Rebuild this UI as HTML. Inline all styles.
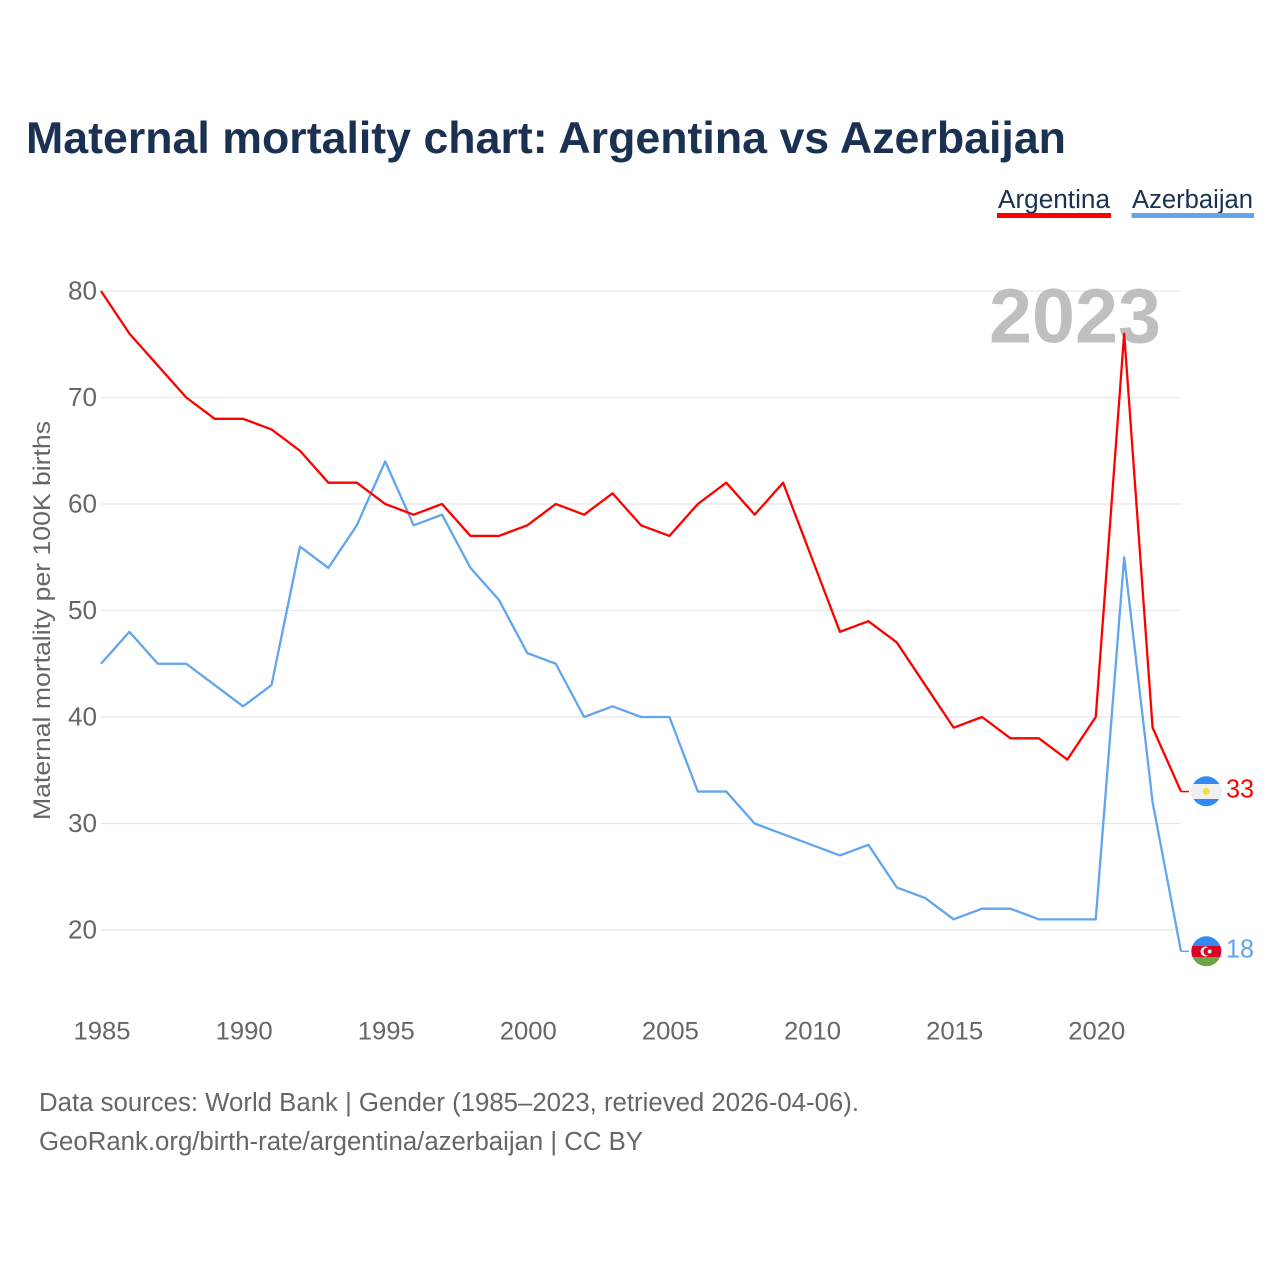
<!DOCTYPE html>
<html lang="en">
<head>
<meta charset="utf-8">
<title>Maternal mortality chart: Argentina vs Azerbaijan</title>
<style>
html,body{margin:0;padding:0;background:#fff;}
svg{display:block;font-family:"Liberation Sans",sans-serif;}
</style>
</head>
<body>
<svg id="chart" xmlns="http://www.w3.org/2000/svg" width="1280" height="1280" viewBox="0 0 1280 1280">
  <defs>
    <clipPath id="flag-clip-ar"><circle cx="1206.3" cy="791.3" r="15"/></clipPath>
    <clipPath id="flag-clip-az"><circle cx="1206.3" cy="951.3" r="15"/></clipPath>
  </defs>
  <rect x="0" y="0" width="1280" height="1280" fill="#fff"/>
  <text x="26" y="153" font-size="44.5" font-weight="700" fill="#1a3152" textLength="1040" lengthAdjust="spacingAndGlyphs">Maternal mortality chart: Argentina vs Azerbaijan</text>

  <g>
    <text x="998" y="208" font-size="25.5" fill="#1a3152" textLength="112" lengthAdjust="spacingAndGlyphs">Argentina</text>
    <rect x="997" y="213" width="114" height="5" fill="#ff0000"/>
  </g>
  <g>
    <text x="1132" y="208" font-size="25.5" fill="#1a3152" textLength="121" lengthAdjust="spacingAndGlyphs">Azerbaijan</text>
    <rect x="1131.5" y="213" width="122.5" height="5" fill="#62a5ec"/>
  </g>

  <g id="grid"></g>
  <text x="1075" y="342.5" font-size="77" font-weight="700" fill="#bfbfbf" text-anchor="middle" textLength="172" lengthAdjust="spacingAndGlyphs">2023</text>
  <g id="yticks"></g>
  <g id="xticks"></g>
  <text transform="translate(50,620.5) rotate(-90)" font-size="24.5" fill="#666" text-anchor="middle" textLength="399" lengthAdjust="spacingAndGlyphs">Maternal mortality per 100K births</text>
  <g id="series"></g>

  <g clip-path="url(#flag-clip-ar)">
    <rect x="1191" y="776" width="31" height="31" fill="#338af3"/>
    <rect x="1191" y="784" width="31" height="15" fill="#f0f0f0"/>
    <circle cx="1206.3" cy="791.3" r="3.6" fill="#ffda44"/>
  </g>
  <g clip-path="url(#flag-clip-az)">
    <rect x="1191" y="936" width="31" height="10" fill="#338af3"/>
    <rect x="1191" y="946" width="31" height="11" fill="#d80027"/>
    <rect x="1191" y="957" width="31" height="10" fill="#6da544"/>
    <circle cx="1205.5" cy="951.5" r="5" fill="#f0f0f0"/>
    <circle cx="1207.5" cy="951.5" r="4" fill="#d80027"/>
    <circle cx="1209.7" cy="951.5" r="2" fill="#f0f0f0"/>
  </g>
  <text id="end-label-ar" x="1226" y="797.5" font-size="26" fill="#ff0000" textLength="28" lengthAdjust="spacingAndGlyphs"></text>
  <text id="end-label-az" x="1226" y="957.5" font-size="26" fill="#62a5ec" textLength="28" lengthAdjust="spacingAndGlyphs"></text>

  <text x="39" y="1111" font-size="25.5" fill="#666" textLength="820" lengthAdjust="spacingAndGlyphs">Data sources: World Bank | Gender (1985–2023, retrieved 2026-04-06).</text>
  <text x="39" y="1150" font-size="25.5" fill="#666" textLength="604" lengthAdjust="spacingAndGlyphs">GeoRank.org/birth-rate/argentina/azerbaijan | CC BY</text>
</svg>
<script>
const years = [1985,1986,1987,1988,1989,1990,1991,1992,1993,1994,1995,1996,1997,1998,1999,2000,2001,2002,2003,2004,2005,2006,2007,2008,2009,2010,2011,2012,2013,2014,2015,2016,2017,2018,2019,2020,2021,2022,2023];
const argentina = [80,76,73,70,68,68,67,65,62,62,60,59,60,57,57,58,60,59,61,58,57,60,62,59,62,55,48,49,47,43,39,40,38,38,36,40,76,39,33];
const azerbaijan = [45,48,45,45,43,41,43,56,54,58,64,58,59,54,51,46,45,40,41,40,40,33,33,30,29,28,27,28,24,23,21,22,22,21,21,21,55,32,18];
const yTicks = [20,30,40,50,60,70,80];
const xTicks = [1985,1990,1995,2000,2005,2010,2015,2020];

const NS = 'http://www.w3.org/2000/svg';
const xScale = function (year) { return 101 + (year - 1985) * (1080 / 38); };
const yScale = function (value) { return 291 + (80 - value) * (639 / 60); };

function make(tag, attrs, parent) {
  const el = document.createElementNS(NS, tag);
  Object.keys(attrs).forEach(function (k) { el.setAttribute(k, attrs[k]); });
  parent.appendChild(el);
  return el;
}

const gridGroup = document.getElementById('grid');
const yTickGroup = document.getElementById('yticks');
yTicks.forEach(function (t) {
  const line = make('line', {x1: 101, x2: 1181, y1: yScale(t), y2: yScale(t), stroke: '#e8e8e8', 'stroke-width': 1.2}, gridGroup);
  
  
  const label = make('text', {x: 97, y: yScale(t) + 8.5, 'font-size': 26, fill: '#666', 'text-anchor': 'end', textLength: 29, lengthAdjust: 'spacingAndGlyphs'}, yTickGroup);
  label.textContent = String(t);
  
  
});

const xTickGroup = document.getElementById('xticks');
xTicks.forEach(function (t) {
  const label = make('text', {x: xScale(t) + 1, y: 1039.5, 'font-size': 25, fill: '#666', 'text-anchor': 'middle', textLength: 57, lengthAdjust: 'spacingAndGlyphs'}, xTickGroup);
  label.textContent = String(t);
  
  
});

function seriesPoints(values) {
  return values.map(function (v, i) { return xScale(years[i]).toFixed(2) + ',' + yScale(v).toFixed(2); }).join(' ');
}

const seriesGroup = document.getElementById('series');

const azLine = make('polyline', {points: seriesPoints(azerbaijan), fill: 'none', stroke: '#62a5ec', 'stroke-width': 2.3, 'stroke-linejoin': 'round'}, seriesGroup);



const arLine = make('polyline', {points: seriesPoints(argentina), fill: 'none', stroke: '#ff0000', 'stroke-width': 2.3, 'stroke-linejoin': 'round'}, seriesGroup);



const lastX = xScale(years[years.length - 1]);
const arEnd = argentina[argentina.length - 1];
const azEnd = azerbaijan[azerbaijan.length - 1];

const arConn = make('line', {x1: lastX, x2: lastX + 8, y1: yScale(arEnd), y2: yScale(arEnd), stroke: '#ff0000', 'stroke-width': 1.5}, seriesGroup);



const azConn = make('line', {x1: lastX, x2: lastX + 8, y1: yScale(azEnd), y2: yScale(azEnd), stroke: '#62a5ec', 'stroke-width': 1.5}, seriesGroup);



document.getElementById('end-label-ar').textContent = String(arEnd);
document.getElementById('end-label-az').textContent = String(azEnd);
</script>
</body>
</html>
